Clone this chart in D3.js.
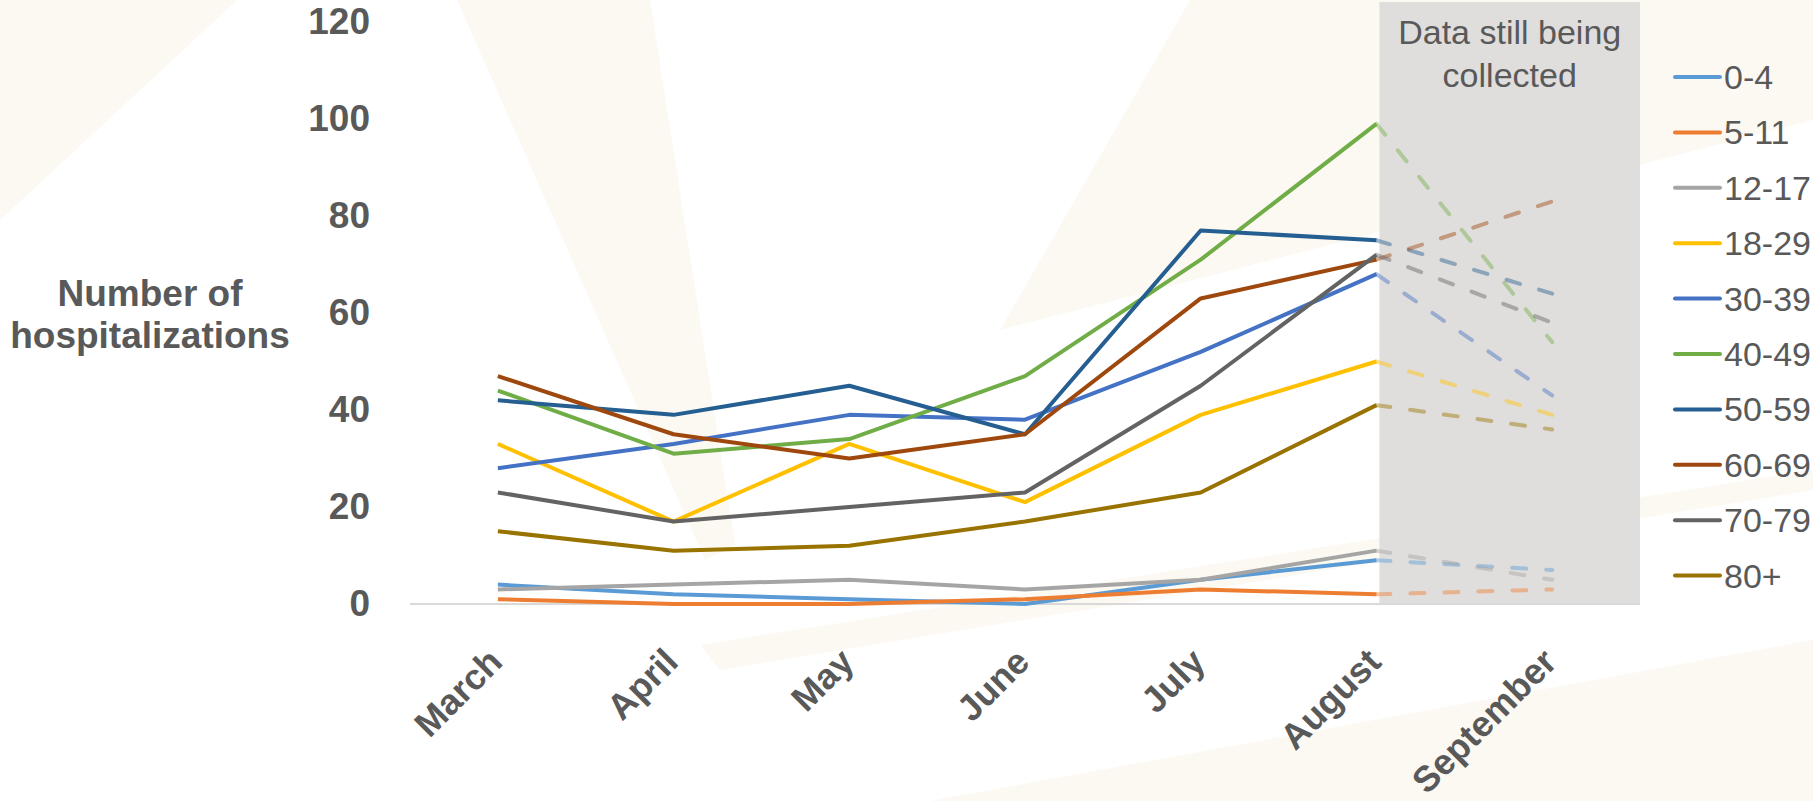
<!DOCTYPE html>
<html lang="en">
<head>
	<meta charset="UTF-8"/>
	<title>Hospitalizations by age group</title>
	<script src="https://d3js.org/d3.v7.min.js"></script>
	<style>
		body { margin: 0; background: #ffffff; }
		text { font-family: "Liberation Sans", Arial, sans-serif; fill: #595959; }
	</style>
</head>
<body>
	<div id="chart"></div>

	<script>
	//Window Size
	var w = 1813;
	var h = 801;

	//Categories
	var months = ["March", "April", "May", "June", "July", "August", "September"];
	var ageGroups = ["0-4", "5-11", "12-17", "18-29", "30-39", "40-49", "50-59", "60-69", "70-79", "80+"];
	var yTicks = [0, 20, 40, 60, 80, 100, 120];

	//Series values, one per age group
	var age0to4 = [4, 2, 1, 0, 5, 9, 7];
	var age5to11 = [1, 0, 0, 1, 3, 2, 3];
	var age12to17 = [3, 4, 5, 3, 5, 11, 5];
	var age18to29 = [33, 17, 33, 21, 39, 50, 39];
	var age30to39 = [28, 33, 39, 38, 52, 68, 43];
	var age40to49 = [44, 31, 34, 47, 71, 99, 54];
	var age50to59 = [42, 39, 45, 35, 77, 75, 64];
	var age60to69 = [47, 35, 30, 35, 63, 71, 83];
	var age70to79 = [23, 17, 20, 23, 45, 72, 58];
	var age80plus = [15, 11, 12, 17, 23, 41, 36];

	var colors = ["#5B9BD5", "#ED7D31", "#A5A5A5", "#FFC000", "#4472C4",
	              "#70AD47", "#255E91", "#9E480E", "#636363", "#997300"];

	var series = [age0to4, age5to11, age12to17, age18to29, age30to39,
	              age40to49, age50to59, age60to69, age70to79, age80plus];

	//Month still being collected
	var partialMonth = "September";

	var xScale = d3.scalePoint()
	            .domain(months)
	            .range([410, 1640])
	            .padding(0.5);

	var yScale = d3.scaleLinear()
	            .domain([0, 120])
	            .range([604, 22]);

	var svg = d3.select("#chart")
	            .append("svg")
	            .attr("width", w)
	            .attr("height", h);

	//Faint background rays
	var rays = [
		[[0, 0], [237, 0], [0, 220]],
		[[457, 0], [650, 0], [735, 545], [705, 560]],
		[[1190, 0], [1813, 0], [1813, 120], [1000, 330]],
		[[700, 645], [1813, 470], [1813, 490], [720, 670]],
		[[930, 801], [1813, 640], [1813, 801]]
	];
	svg.selectAll(".ray")
	    .data(rays)
	    .enter()
	    .append("polygon")
	    .attr("class", "ray")
	    .attr("points", function(d) { return d.join(" "); })
	    .attr("fill", "#fcf9f2");

	//Shaded band for the partial month
	var step = xScale.step();
	var bandLeft = xScale("August") + 3;
	var bandRight = xScale(partialMonth) + step / 2;
	var bandMid = (bandLeft + bandRight) / 2;

	svg.append("rect")
	    .attr("x", bandLeft)
	    .attr("y", yScale(120) - 20)
	    .attr("width", bandRight - bandLeft)
	    .attr("height", yScale(0) - yScale(120) + 20)
	    .attr("fill", "#e0dedc");

	svg.append("text")
	    .attr("x", bandMid)
	    .attr("y", 44)
	    .attr("text-anchor", "middle")
	    .attr("font-size", "34px")
	    .text("Data still being");
	svg.append("text")
	    .attr("x", bandMid)
	    .attr("y", 87)
	    .attr("text-anchor", "middle")
	    .attr("font-size", "34px")
	    .text("collected");

	//Baseline
	svg.append("line")
	    .attr("x1", xScale.range()[0])
	    .attr("x2", xScale.range()[1])
	    .attr("y1", yScale(0))
	    .attr("y2", yScale(0))
	    .attr("stroke", "#d9d9d9")
	    .attr("stroke-width", 2);

	//Y axis
	var yAxis = d3.axisLeft()
	            .scale(yScale)
	            .tickValues(yTicks)
	            .tickSize(0)
	            .tickPadding(40);

	var gy = svg.append("g")
	    .attr("transform", "translate(410,0)")
	    .call(yAxis);
	gy.select(".domain").remove();
	gy.selectAll("text")
	    .attr("font-size", "37px")
	    .attr("font-weight", "bold")
	    .attr("font-family", null)
	    .attr("fill", "#595959");

	//X axis
	var xAxis = d3.axisBottom()
	            .scale(xScale)
	            .tickSize(0);

	var gx = svg.append("g")
	    .attr("transform", "translate(0," + yScale(0) + ")")
	    .call(xAxis);
	gx.select(".domain").remove();
	gx.selectAll("text")
	    .attr("font-size", "36px")
	    .attr("font-weight", "bold")
	    .attr("font-family", null)
	    .attr("fill", "#595959")
	    .attr("text-anchor", "end")
	    .attr("dy", null)
	    .attr("y", 0)
	    .attr("transform", "translate(6,60) rotate(-45)");

	//Y axis title
	svg.append("text")
	    .attr("x", 150)
	    .attr("y", 306)
	    .attr("text-anchor", "middle")
	    .attr("font-size", "37px")
	    .attr("font-weight", "bold")
	    .text("Number of");
	svg.append("text")
	    .attr("x", 150)
	    .attr("y", 348)
	    .attr("text-anchor", "middle")
	    .attr("font-size", "37px")
	    .attr("font-weight", "bold")
	    .text("hospitalizations");

	//Lines
	var line = d3.line()
	    .x(function(d) { return xScale(d.month); })
	    .y(function(d) { return yScale(d.value); });

	var lastFull = months.indexOf(partialMonth) - 1;

	series.forEach(function(vals, i) {
		var pts = vals.map(function(v, j) { return { month: months[j], value: v }; });

		svg.append("path")
		    .datum(pts.slice(0, lastFull + 1))
		    .attr("d", line)
		    .attr("fill", "none")
		    .attr("stroke", colors[i])
		    .attr("stroke-width", 4)
		    .attr("stroke-linejoin", "round");

		svg.append("path")
		    .datum(pts.slice(lastFull))
		    .attr("d", line)
		    .attr("fill", "none")
		    .attr("stroke", colors[i])
		    .attr("stroke-opacity", 0.45)
		    .attr("stroke-width", 4)
		    .attr("stroke-linecap", "round")
		    .attr("stroke-dasharray", "14,20");
	});

	//Legend
	var legend = svg.selectAll(".legend")
	    .data(ageGroups)
	    .enter()
	    .append("g")
	    .attr("class", "legend")
	    .attr("transform", function(d, i) {
	        return "translate(1675," + (77 + i * 55.4) + ")";
	    });

	legend.append("line")
	    .attr("x1", 0)
	    .attr("x2", 45)
	    .attr("stroke", function(d, i) { return colors[i]; })
	    .attr("stroke-width", 4)
	    .attr("stroke-linecap", "round");

	legend.append("text")
	    .attr("x", 49)
	    .attr("y", 12)
	    .attr("font-size", "34px")
	    .text(function(d) { return d; });
	</script>
</body>
</html>
